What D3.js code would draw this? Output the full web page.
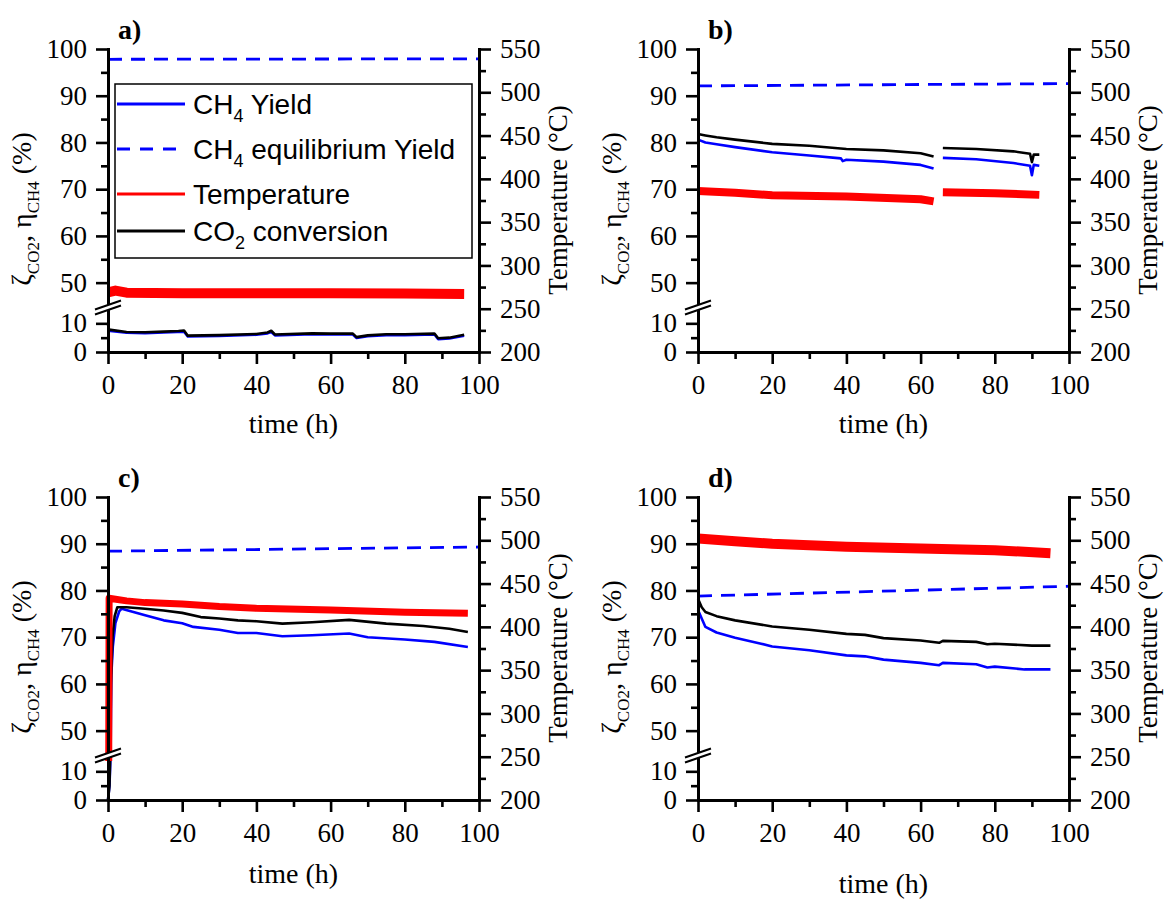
<!DOCTYPE html>
<html><head><meta charset="utf-8">
<script src="https://cdn.jsdelivr.net/npm/d3@7"></script>
<style>
body{margin:0;background:#fff}
svg{display:block}
svg text{font-family:'Liberation Serif','Times New Roman',serif;fill:#000}
svg text.sans, svg text.sans tspan{font-family:'Liberation Sans',Arial,sans-serif}
</style>
</head><body>
<svg id="chart" width="1166" height="900"></svg>
<script>
// ---------- data ----------
const panelLabels = ["a)", "b)", "c)", "d)"];
const xTicks = [0, 20, 40, 60, 80, 100];
const xMinorTicks = [10, 30, 50, 70, 90];
const leftTicks = [0, 10, 50, 60, 70, 80, 90, 100];
const leftMinorTicks = [5, 55, 65, 75, 85, 95];
const rightTicks = [200, 250, 300, 350, 400, 450, 500, 550];
const rightMinorTicks = [225, 275, 325, 375, 425, 475, 525];
const legendLabels = [["CH", "4", " Yield"], ["CH", "4", " equilibrium Yield"], ["Temperature", "", ""], ["CO", "2", " conversion"]];

// panel a
const aConv = [[0,9.6],[0.3,7.8],[5,7.0],[10,6.9],[15,7.1],[19,7.3],[20.5,7.5],[21.5,5.7],[30,5.9],[40,6.3],[43,6.8],[44,7.4],[45,6.1],[55,6.5],[60,6.4],[66,6.4],[67,5.2],[70,5.8],[75,6.2],[80,6.2],[88,6.4],[89,4.8],[92,5.0],[96,6.0]];
const aYield = [[0,7.4],[5,6.7],[10,6.6],[15,6.8],[20.5,7.1],[21.5,5.4],[30,5.6],[40,6.0],[43,6.5],[44,7.0],[45,5.8],[55,6.2],[60,6.1],[66,6.1],[67,4.9],[70,5.5],[75,5.9],[80,5.9],[88,6.1],[89,4.5],[92,4.7],[96,5.7]];
const aTemp = [[0,269],[2,271],[5,268.5],[20,268],[40,268],[60,268],[80,267.5],[96,267]];
const aEq = [[0,97.8],[100,97.9]];

// panel b (null = gap in the record)
const bConv = [[0,81.8],[2,81.5],[5,81.1],[10,80.6],[20,79.7],[30,79.3],[40,78.6],[50,78.3],[60,77.7],[63.5,77.0],null,[66,78.8],[75,78.6],[85,78.1],[89.5,77.6],[90,75.8],[90.5,77.4],[92,77.4]];
const bYield = [[0,80.6],[2,80.0],[5,79.6],[10,79.0],[20,77.9],[30,77.2],[38.5,76.6],[39,76.0],[40,76.3],[50,75.9],[60,75.2],[63.5,74.4],null,[66,76.7],[75,76.4],[85,75.6],[89.5,75.0],[90,73.0],[90.5,75.2],[92,75.0]];
const bTemp = [[0,386],[10,384],[20,381],[40,379.6],[60,376.5],[63.5,374],null,[66,384.5],[80,383.5],[92,381.5]];
const bEq = [[0,92.1],[100,92.6]];

// panel c
const cConv = [[0,0],[0.4,5],[0.6,40],[0.8,60],[1.2,70],[1.8,74.5],[2.5,76.4],[5,76.4],[10,76.1],[15,75.7],[20,75.2],[25,74.3],[30,74.0],[35,73.6],[40,73.4],[47,72.9],[55,73.2],[65,73.7],[75,72.9],[85,72.4],[92,71.8],[97,71.1]];
const cYield = [[0,0],[0.4,5],[0.7,45],[0.9,62],[1.3,68],[2,73],[3,75.5],[3.7,76.1],[10,74.7],[15,73.6],[20,73.0],[23,72.2],[30,71.6],[35,70.9],[40,70.9],[47,70.2],[55,70.4],[65,70.8],[70,70.0],[80,69.5],[88,69.0],[97,67.9]];
const cTemp = [[0.2,245],[0.3,433],[5,430],[10,428],[20,426.5],[30,423.4],[40,421.5],[60,419.6],[80,416.9],[97,415.7]];
const cEq = [[0,88.4],[100,89.3]];

// panel d
const dConv = [[0,78.2],[1,76.4],[2,75.4],[5,74.5],[10,73.6],[20,72.3],[30,71.6],[40,70.7],[45,70.5],[50,69.8],[60,69.3],[65,68.8],[66,69.2],[75,69.0],[78,68.5],[80,68.6],[90,68.2],[95,68.2]];
const dYield = [[0,75.8],[1,74.0],[2,72.2],[5,71.0],[10,69.9],[17,68.6],[20,68.0],[30,67.2],[40,66.1],[45,65.9],[50,65.2],[60,64.5],[65,64.0],[66,64.5],[75,64.2],[78,63.5],[80,63.7],[88,63.1],[95,63.1]];
const dTemp = [[0,502],[10,499],[20,496],[40,492.4],[60,490.6],[80,488.6],[95,485]];
const dEq = [[0,78.8],[100,80.9]];

const panelYield = [aYield, bYield, cYield, dYield];
const panelConv = [aConv, bConv, cConv, dConv];
const panelTemp = [aTemp, bTemp, cTemp, dTemp];
const panelEq = [aEq, bEq, cEq, dEq];

// ---------- layout ----------
const W = 371, H = 303;
const panelLeft = [108, 698, 108, 698];
const panelTop = [49, 49, 497, 497];
const xLabelBase = [433, 433, 883, 893];
const tempWidth = [10, 8, 7, 10];
const BLUE = "#0000ff", RED = "#ff0000";

const svg = d3.select("#chart");

panelLabels.forEach((lab, i) => {
  const L = panelLeft[i], T = panelTop[i];
  const g = svg.append("g");
  const x = d3.scaleLinear().domain([0, 100]).range([L, L + W]);
  const yL = d3.scaleLinear().domain([0, 15, 45, 100]).range([T + H, T + H - 43, T + H - 46, T]);
  const yR = d3.scaleLinear().domain([200, 550]).range([T + H, T]);

  const lineL = d3.line().defined(d => d !== null).x(d => x(d[0])).y(d => yL(d[1]));
  const lineR = d3.line().defined(d => d !== null).x(d => x(d[0])).y(d => yR(d[1]));

  // data
  g.append("path").attr("d", lineL(panelYield[i])).attr("fill", "none").attr("stroke", BLUE).attr("stroke-width", 2.6).attr("stroke-linejoin", "round");
  g.append("path").attr("d", lineL(panelConv[i])).attr("fill", "none").attr("stroke", "#000").attr("stroke-width", 2.6).attr("stroke-linejoin", "round");
  g.append("path").attr("d", lineR(panelTemp[i])).attr("fill", "none").attr("stroke", RED).attr("stroke-width", tempWidth[i]).attr("stroke-linejoin", "round");
  g.append("path").attr("d", lineL(panelEq[i])).attr("fill", "none").attr("stroke", BLUE).attr("stroke-width", 2.8).attr("stroke-dasharray", "14,9");

  // axes
  const styleAxis = (sel) => {
    sel.attr("font-family", null).attr("font-size", null);
    sel.select(".domain").attr("stroke-width", 3).attr("stroke-linecap", "square");
    sel.selectAll(".tick line").attr("stroke-width", 2.6);
    sel.selectAll(".tick text").style("font-size", "27px").attr("fill", "#000");
  };
  const minor = (sel) => {
    sel.select(".domain").remove();
    sel.selectAll(".tick line").attr("stroke-width", 2.6);
    sel.selectAll(".tick text").remove();
  };
  g.append("g").attr("transform", `translate(0,${T + H})`).call(d3.axisBottom(x).tickValues(xMinorTicks).tickSize(7).tickSizeOuter(0)).call(minor);
  g.append("g").attr("transform", `translate(${L},0)`).call(d3.axisLeft(yL).tickValues(leftMinorTicks).tickSize(7).tickSizeOuter(0)).call(minor);
  g.append("g").attr("transform", `translate(${L + W},0)`).call(d3.axisRight(yR).tickValues(rightMinorTicks).tickSize(7).tickSizeOuter(0)).call(minor);

  g.append("g").attr("transform", `translate(0,${T + H})`).call(d3.axisBottom(x).tickValues(xTicks).tickSize(12).tickSizeOuter(0).tickPadding(11)).call(styleAxis);
  g.append("g").attr("transform", `translate(${L},0)`).call(d3.axisLeft(yL).tickValues(leftTicks).tickSize(12).tickSizeOuter(0).tickPadding(9)).call(styleAxis);
  g.append("g").attr("transform", `translate(${L + W},0)`).call(d3.axisRight(yR).tickValues(rightTicks).tickSize(12).tickSizeOuter(0).tickPadding(9)).call(styleAxis);

  // axis break marks
  const yb = (yL(15) + yL(45)) / 2;
  const bx0 = L - 13, bx1 = L + 13;
  g.append("path").attr("d", `M${bx0},${yb + 2} L${bx1},${yb - 7} L${bx1},${yb - 2} L${bx0},${yb + 7} Z`).attr("fill", "#fff");
  g.append("line").attr("x1", bx0).attr("y1", yb + 2).attr("x2", bx1).attr("y2", yb - 7).attr("stroke", "#000").attr("stroke-width", 2);
  g.append("line").attr("x1", bx0).attr("y1", yb + 7).attr("x2", bx1).attr("y2", yb - 2).attr("stroke", "#000").attr("stroke-width", 2);

  // panel letter
  g.append("text").attr("x", L + 10).attr("y", T - 10).style("font-weight", "bold").style("font-size", "28px").text(lab);

  // x title
  g.append("text").attr("x", L + W / 2).attr("y", xLabelBase[i]).attr("text-anchor", "middle").style("font-size", "28px").text("time (h)");

  // left title
  const lt = g.append("text").attr("transform", `translate(${L - 77},${T + 160}) rotate(-90)`).attr("text-anchor", "middle").style("font-size", "28px");
  lt.append("tspan").text("ζ");
  lt.append("tspan").style("font-size", "17px").attr("dy", 8).text("CO2");
  lt.append("tspan").attr("dy", -8).text(", η");
  lt.append("tspan").style("font-size", "17px").attr("dy", 8).text("CH4");
  lt.append("tspan").attr("dy", -8).text(" (%)");

  // right title
  g.append("text").attr("transform", `translate(${L + W + 88},${T + 151}) rotate(-90)`).attr("text-anchor", "middle").style("font-size", "27px").text("Temperature (°C)");

  // legend only in panel a
  if (i === 0) {
    const lg = g.append("g");
    lg.append("rect").attr("x", 115).attr("y", 84).attr("width", 357).attr("height", 174).attr("fill", "#fff").attr("stroke", "#000").attr("stroke-width", 1.5);
    const rowsY = [104, 149, 194, 231];
    const colors = [BLUE, BLUE, RED, "#000"];
    const dashes = [null, "13,10", null, null];
    legendLabels.forEach((parts, k) => {
      lg.append("line").attr("x1", 117).attr("x2", 185).attr("y1", rowsY[k]).attr("y2", rowsY[k])
        .attr("stroke", colors[k]).attr("stroke-width", 3).attr("stroke-dasharray", dashes[k]);
      const t = lg.append("text").attr("class", "sans").attr("x", 193).attr("y", rowsY[k] + 10).style("font-size", "28px");
      t.append("tspan").text(parts[0]);
      if (parts[1]) {
        t.append("tspan").style("font-size", "18px").attr("dy", 8).text(parts[1]);
        t.append("tspan").attr("dy", -8).text(parts[2]);
      }
    });
  }
});
</script>
</body></html>
